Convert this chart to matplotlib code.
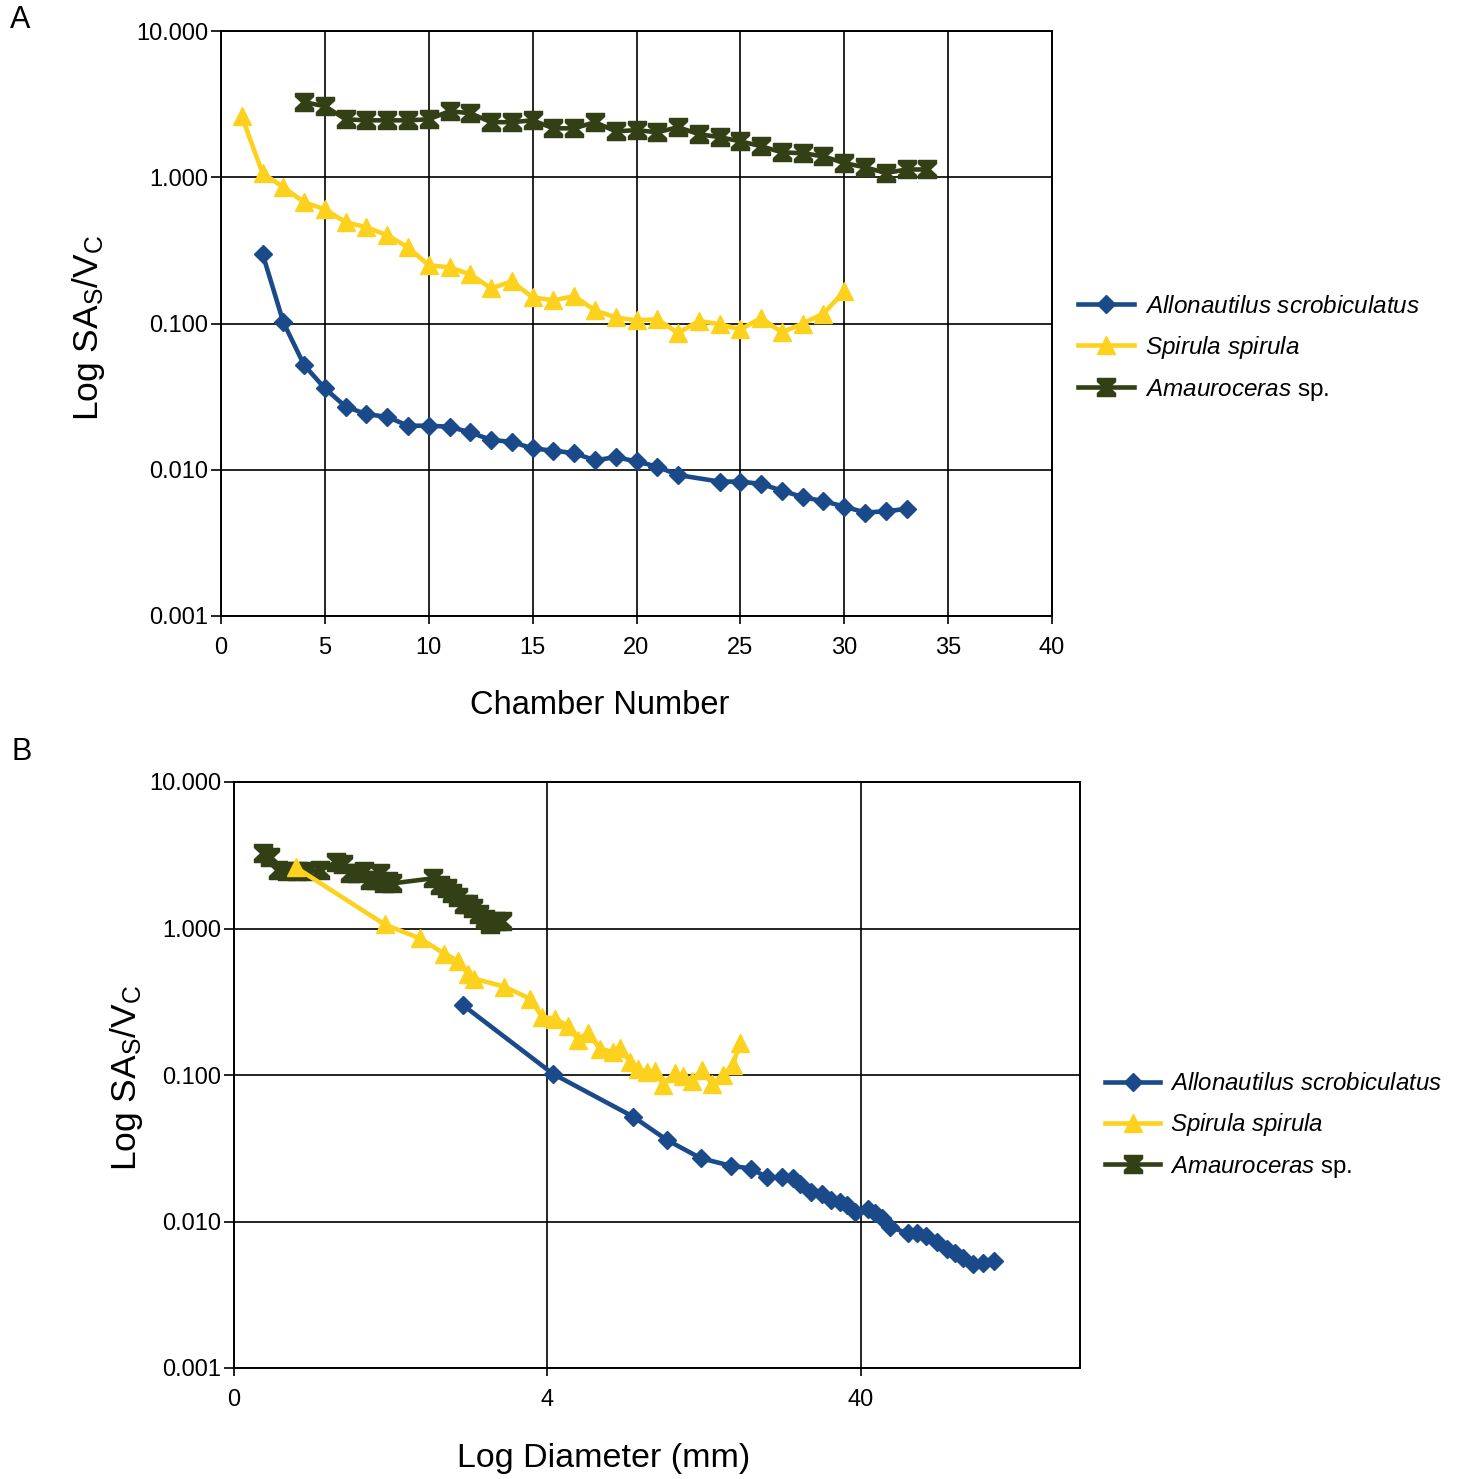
import matplotlib
matplotlib.use('Agg')
import matplotlib.pyplot as plt
import numpy as np

plt.rcParams['font.family'] = ['Liberation Sans', 'DejaVu Sans']
plt.rcParams['mathtext.fontset'] = 'custom'
plt.rcParams['mathtext.rm'] = 'Liberation Sans'
plt.rcParams['mathtext.it'] = 'Liberation Sans:italic'

# Allonautilus scrobiculatus
allo_chamber = [2, 3, 4, 5, 6, 7, 8, 9, 10, 11, 12, 13, 14, 15, 16, 17, 18, 19, 20, 21, 22,
                24, 25, 26, 27, 28, 29, 30, 31, 32, 33]
allo_sav = [0.30, 0.102, 0.052, 0.036, 0.027, 0.024, 0.023, 0.020, 0.020, 0.0197, 0.018,
            0.016, 0.0155, 0.014, 0.0135, 0.013, 0.0116, 0.0122, 0.0114, 0.0105, 0.0092,
            0.0083, 0.0083, 0.0080, 0.0072, 0.0065, 0.0061, 0.0056, 0.0051, 0.0052, 0.0054]
allo_diam = [2.15, 4.16, 7.50, 9.62, 12.35, 15.39, 17.83, 20.06, 22.39, 24.27, 25.56,
             27.71, 30.03, 32.09, 34.28, 36.09, 38.28, 42.12, 44.32, 46.68, 49.52,
             56.48, 60.36, 64.48, 69.92, 75.24, 79.76, 84.60, 91.08, 98.04, 106.2]

# Spirula spirula
spir_chamber = list(range(1, 31))
spir_sav = [2.61, 1.065, 0.855, 0.675, 0.604, 0.492, 0.455, 0.401, 0.332, 0.250,
            0.242, 0.217, 0.174, 0.194, 0.151, 0.144, 0.154, 0.123, 0.110, 0.105,
            0.107, 0.086, 0.104, 0.099, 0.091, 0.109, 0.087, 0.100, 0.117, 0.166]
spir_diam = [0.63, 1.21, 1.57, 1.87, 2.07, 2.23, 2.33, 2.91, 3.52, 3.84,
             4.23, 4.65, 5.00, 5.39, 5.88, 6.47, 6.81, 7.33, 7.78, 8.31,
             8.81, 9.34, 10.20, 10.82, 11.56, 12.44, 13.39, 14.52, 15.62, 16.45]

# Amauroceras sp.
amau_chamber = list(range(4, 35))
amau_sav = [3.26, 3.06, 2.49, 2.45, 2.45, 2.45, 2.49, 2.83, 2.74, 2.38, 2.38, 2.45,
            2.16, 2.16, 2.38, 2.06, 2.10, 2.03, 2.20, 1.97, 1.88, 1.76, 1.63, 1.48,
            1.46, 1.39, 1.25, 1.17, 1.07, 1.13, 1.13]
amau_diam = [0.495, 0.521, 0.552, 0.590, 0.636, 0.684, 0.752, 0.846, 0.891, 0.938,
             0.987, 1.039, 1.086, 1.135, 1.169, 1.204, 1.240, 1.277, 1.725, 1.816,
             1.912, 1.984, 2.07, 2.166, 2.231, 2.314, 2.418, 2.527, 2.622, 2.740, 2.864]

y_ticks = [0.001, 0.01, 0.1, 1, 10]
y_labels = ['0.001', '0.010', '0.100', '1.000', '10.000']

blue = '#1a4a8a'
yellow = '#fdd21f'
green = '#333f15'

# hourglass marker like the Excel one
hourglass = [(-1, 1), (1, 1), (1, 0.65), (0.3, 0), (1, -0.65), (1, -1),
             (-1, -1), (-1, -0.65), (-0.3, 0), (-1, 0.65), (-1, 1)]

ylab = 'Log SA$_\\mathrm{S}$/V$_\\mathrm{C}$'
names = ['$\\mathit{Allonautilus\\ scrobiculatus}$', '$\\mathit{Spirula\\ spirula}$',
         '$\\mathit{Amauroceras}$ sp.']


def draw_series(ax, xa, xs, xb):
    ax.plot(xa, allo_sav, color=blue, lw=3.3, marker='D', ms=9, zorder=3, label=names[0])
    ax.plot(xb, spir_sav, color=yellow, lw=3.3, marker='^', ms=13, zorder=4, label=names[1])
    ax.plot(xs, amau_sav, color=green, lw=3.3, marker=hourglass, ms=13, zorder=3, label=names[2])


def style_axes(ax):
    ax.set_yscale('log')
    ax.set_ylim(0.001, 10)
    ax.set_yticks(y_ticks)
    ax.set_yticklabels(y_labels)
    ax.yaxis.set_minor_locator(matplotlib.ticker.NullLocator())
    ax.grid(True, color='black', lw=1.2)
    ax.tick_params(axis='y', length=7, width=1.2, pad=2, labelsize=17)
    ax.tick_params(axis='x', length=6, width=1.2, pad=9, labelsize=17)
    for s in ax.spines.values():
        s.set_linewidth(1.4)
    ax.set_axisbelow(True)


fig = plt.figure(figsize=(14.58, 14.79), dpi=100)

# panel A
ax1 = fig.add_axes([221/1458, 1-616/1479, 831/1458, 585/1479])
draw_series(ax1, allo_chamber, amau_chamber, spir_chamber)
style_axes(ax1)
ax1.set_xlim(0, 40)
ax1.set_xticks(np.arange(0, 41, 5))
ax1.set_xlabel('Chamber Number', fontsize=23.5)
ax1.xaxis.set_label_coords(0.456, -0.126)
ax1.set_ylabel(ylab, fontsize=25.5)
ax1.yaxis.set_label_coords(-0.137, 0.492)
ax1.legend(loc='center left', bbox_to_anchor=(1.031, 0.456), frameon=False, fontsize=17.5,
           borderpad=0, borderaxespad=0, handlelength=2.3, handletextpad=0.45,
           labelspacing=0.65, numpoints=1)

# panel B
ax2 = fig.add_axes([234/1458, 1-1368/1479, 846/1458, 586/1479])
draw_series(ax2, allo_diam, amau_diam, spir_diam)
style_axes(ax2)
ax2.set_xscale('log')
ax2.set_xlim(0.4, 200)
ax2.set_xticks([0.4, 4, 40])
ax2.set_xticklabels(['0', '4', '40'])
ax2.xaxis.set_minor_locator(matplotlib.ticker.NullLocator())
ax2.set_xlabel('Log Diameter (mm)', fontsize=24.5)
ax2.xaxis.set_label_coords(0.437, -0.128)
ax2.set_ylabel(ylab, fontsize=25.5)
ax2.yaxis.set_label_coords(-0.105, 0.495)
ax2.legend(loc='center left', bbox_to_anchor=(1.0296, 0.412), frameon=False, fontsize=17.3,
           borderpad=0, borderaxespad=0, handlelength=2.3, handletextpad=0.4,
           labelspacing=0.65, numpoints=1)

fig.text(20/1458, 1-20/1479, 'A', fontsize=22, ha='center', va='center')
fig.text(22/1458, 1-752/1479, 'B', fontsize=22, ha='center', va='center')

fig.savefig('out.png', dpi=100)
